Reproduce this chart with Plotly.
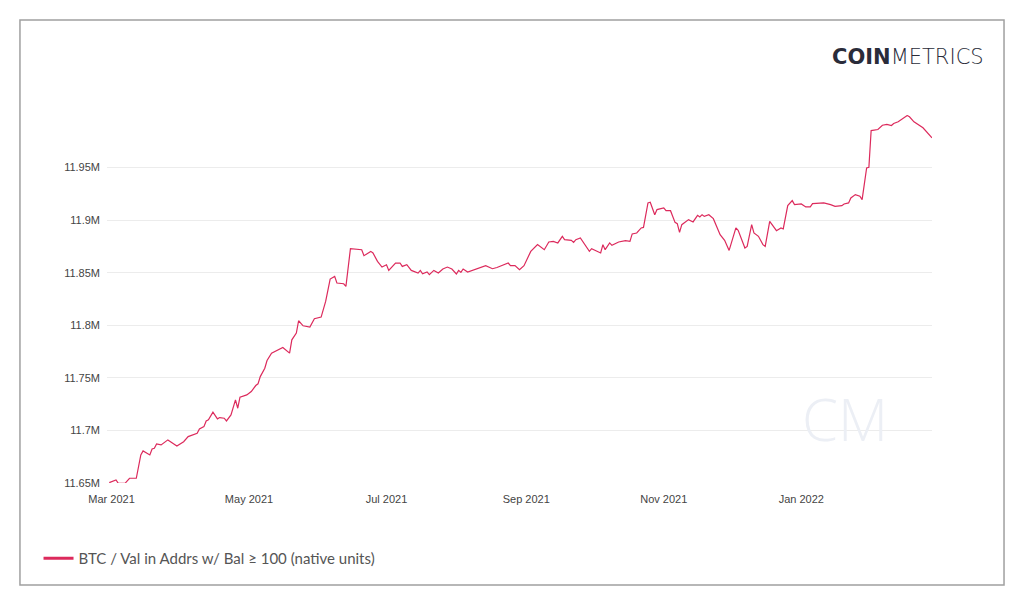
import plotly.graph_objects as go

# values (native units, BTC)
dates = [
    "2021-02-28", "2021-03-03", "2021-03-04", "2021-03-07", "2021-03-09", "2021-03-12",
    "2021-03-14", "2021-03-15", "2021-03-18", "2021-03-19", "2021-03-20", "2021-03-21",
    "2021-03-23", "2021-03-26", "2021-03-30", "2021-04-02", "2021-04-04", "2021-04-08",
    "2021-04-09", "2021-04-11", "2021-04-12", "2021-04-13", "2021-04-15", "2021-04-17",
    "2021-04-18", "2021-04-20", "2021-04-21", "2021-04-23", "2021-04-25", "2021-04-26",
    "2021-04-27", "2021-04-30", "2021-05-02", "2021-05-04", "2021-05-05", "2021-05-06",
    "2021-05-08", "2021-05-09", "2021-05-11", "2021-05-14", "2021-05-16", "2021-05-19",
    "2021-05-20", "2021-05-22", "2021-05-23", "2021-05-25", "2021-05-28", "2021-05-30",
    "2021-06-02", "2021-06-04", "2021-06-06", "2021-06-08", "2021-06-09", "2021-06-12",
    "2021-06-13", "2021-06-15", "2021-06-20", "2021-06-21", "2021-06-24", "2021-06-25",
    "2021-06-27", "2021-06-29", "2021-07-01", "2021-07-02", "2021-07-05", "2021-07-07",
    "2021-07-08", "2021-07-10", "2021-07-12", "2021-07-15", "2021-07-16", "2021-07-17",
    "2021-07-19", "2021-07-20", "2021-07-22", "2021-07-24", "2021-07-26", "2021-07-28",
    "2021-07-30", "2021-08-01", "2021-08-02", "2021-08-03", "2021-08-04", "2021-08-06",
    "2021-08-10", "2021-08-14", "2021-08-17", "2021-08-19", "2021-08-24", "2021-08-25",
    "2021-08-27", "2021-08-29", "2021-08-31", "2021-09-01", "2021-09-03", "2021-09-06",
    "2021-09-09", "2021-09-11", "2021-09-13", "2021-09-15", "2021-09-17", "2021-09-18",
    "2021-09-21", "2021-09-22", "2021-09-23", "2021-09-25", "2021-09-29", "2021-09-30",
    "2021-10-04", "2021-10-05", "2021-10-06", "2021-10-08", "2021-10-09", "2021-10-12",
    "2021-10-15", "2021-10-17", "2021-10-18", "2021-10-20", "2021-10-22", "2021-10-23",
    "2021-10-25", "2021-10-26", "2021-10-28", "2021-10-29", "2021-11-01", "2021-11-02",
    "2021-11-04", "2021-11-06", "2021-11-07", "2021-11-08", "2021-11-09", "2021-11-12",
    "2021-11-14", "2021-11-16", "2021-11-17", "2021-11-18", "2021-11-19", "2021-11-21",
    "2021-11-23", "2021-11-26", "2021-11-28", "2021-11-30", "2021-12-03", "2021-12-04",
    "2021-12-07", "2021-12-08", "2021-12-10", "2021-12-11", "2021-12-13", "2021-12-15",
    "2021-12-16", "2021-12-18", "2021-12-21", "2021-12-23", "2021-12-24", "2021-12-26",
    "2021-12-28", "2021-12-29", "2022-01-01", "2022-01-03", "2022-01-05", "2022-01-06",
    "2022-01-11", "2022-01-14", "2022-01-16", "2022-01-19", "2022-01-20", "2022-01-22",
    "2022-01-23", "2022-01-25", "2022-01-27", "2022-01-28", "2022-01-30", "2022-01-31",
    "2022-02-01", "2022-02-04", "2022-02-06", "2022-02-08", "2022-02-10", "2022-02-11",
    "2022-02-13", "2022-02-17", "2022-02-18", "2022-02-20", "2022-02-24", "2022-02-28",
]

values_m = [
    11.6503, 11.6529, 11.6497, 11.6497, 11.6545, 11.6545,
    11.6767, 11.6805, 11.6767, 11.6824, 11.6830, 11.6871,
    11.6862, 11.6910, 11.6852, 11.6893, 11.6941, 11.6973,
    11.7014, 11.7036, 11.7090, 11.7100, 11.7173, 11.7110,
    11.7122, 11.7116, 11.7090, 11.7148, 11.7290, 11.7211,
    11.7316, 11.7338, 11.7370, 11.7427, 11.7443, 11.7512,
    11.7592, 11.7665, 11.7735, 11.7767, 11.7789, 11.7735,
    11.7862, 11.7926, 11.8043, 11.7995, 11.7983, 11.8062,
    11.8078, 11.8227, 11.8440, 11.8465, 11.8402, 11.8395,
    11.8370, 11.8729, 11.8719, 11.8662, 11.8703, 11.8688,
    11.8608, 11.8554, 11.8576, 11.8522, 11.8592, 11.8592,
    11.8560, 11.8576, 11.8522, 11.8497, 11.8522, 11.8490,
    11.8507, 11.8481, 11.8522, 11.8497, 11.8535, 11.8554,
    11.8535, 11.8488, 11.8522, 11.8503, 11.8535, 11.8507,
    11.8535, 11.8567, 11.8538, 11.8550, 11.8592, 11.8567,
    11.8567, 11.8529, 11.8567, 11.8617, 11.8703, 11.8767,
    11.8719, 11.8792, 11.8798, 11.8783, 11.8846, 11.8814,
    11.8808, 11.8789, 11.8814, 11.8830, 11.8703, 11.8729,
    11.8688, 11.8767, 11.8719, 11.8783, 11.8760, 11.8792,
    11.8805, 11.8798, 11.8869, 11.8878, 11.8926, 11.8931,
    11.9164, 11.9170, 11.9052, 11.9100, 11.9116, 11.9090,
    11.9090, 11.8979, 11.8967, 11.8884, 11.8957, 11.9005,
    11.8983, 11.9046, 11.9030, 11.9052, 11.9036, 11.9052,
    11.9014, 11.8862, 11.8808, 11.8712, 11.8926, 11.8903,
    11.8735, 11.8750, 11.8957, 11.8878, 11.8846, 11.8767,
    11.8750, 11.8989, 11.8900, 11.8926, 11.8916, 11.9138,
    11.9186, 11.9148, 11.9154, 11.9126, 11.9126, 11.9157,
    11.9164, 11.9148, 11.9131, 11.9138, 11.9154, 11.9164,
    11.9211, 11.9243, 11.9227, 11.9195, 11.9497, 11.9503,
    11.9852, 11.9862, 11.9903, 11.9910, 11.9900, 11.9919,
    11.9935, 11.9995, 11.9983, 11.9935, 11.9878, 11.9783,
]
values = [v * 1e6 for v in values_m]

y_ticks = [11.65e6, 11.70e6, 11.75e6, 11.80e6, 11.85e6, 11.90e6, 11.95e6]
y_tick_labels = ["11.65M", "11.7M", "11.75M", "11.8M", "11.85M", "11.9M", "11.95M"]

series_name = "BTC / Val in Addrs w/ Bal \u2265 100 (native units)"
line_color = "#dc2a5c"

fig = go.Figure()

fig.add_trace(go.Scatter(
    x=dates,
    y=values,
    mode="lines",
    line=dict(color=line_color, width=1.2),
    showlegend=False,
    hoverinfo="x+y",
))

# legend entry with a thicker stroke, as in the original
fig.add_trace(go.Scatter(
    x=[None],
    y=[None],
    mode="lines",
    name=series_name,
    line=dict(color=line_color, width=3),
))

fig.update_layout(
    width=1016,
    height=599,
    margin=dict(l=99, r=92, t=107, b=124),
    paper_bgcolor="white",
    plot_bgcolor="white",
    showlegend=True,
    legend=dict(
        x=-0.083,
        y=-0.205,
        xanchor="left",
        yanchor="middle",
        orientation="h",
        font=dict(family="Lato, 'Open Sans', sans-serif", size=15, color="#555555"),
        bgcolor="rgba(0,0,0,0)",
        itemwidth=30,
    ),
    xaxis=dict(
        type="date",
        range=["2021-02-27", "2022-02-28"],
        tick0="2021-03-01",
        dtick="M2",
        tickformat="%b %Y",
        showgrid=False,
        zeroline=False,
        showline=False,
        ticks="",
        ticklabelstandoff=8,
        tickfont=dict(family="Liberation Sans, Arial, sans-serif", size=11, color="#444444"),
    ),
    yaxis=dict(
        range=[11.65e6, 12.0e6],
        tickvals=y_ticks,
        ticktext=y_tick_labels,
        showgrid=True,
        gridcolor="#ececec",
        gridwidth=1,
        zeroline=False,
        showline=False,
        ticks="",
        ticklabelstandoff=6,
        tickfont=dict(family="Liberation Sans, Arial, sans-serif", size=11, color="#444444"),
    ),
    shapes=[
        dict(
            type="rect",
            xref="paper", yref="paper",
            x0=-0.1055, x1=1.0873, y0=-0.2772, y1=1.2582,
            line=dict(color="#a0a0a0", width=1.5),
            fillcolor="rgba(0,0,0,0)",
            layer="below",
        ),
    ],
    annotations=[
        dict(
            text="<b>COIN</b>METRICS",
            xref="paper", yref="paper",
            x=1.0655, y=1.1565,
            xanchor="right", yanchor="middle",
            showarrow=False,
            font=dict(family="'DejaVu Sans', 'Noto Sans', sans-serif", size=21, color="#2a2c3a", weight=200),
        ),
        dict(
            text="CM",
            xref="paper", yref="paper",
            x=0.895, y=0.175,
            xanchor="center", yanchor="middle",
            showarrow=False,
            font=dict(family="'Open Sans', 'Noto Sans', sans-serif", size=58, color="#eceff5", weight=300),
        ),
    ],
)

fig.write_html("out.html")
